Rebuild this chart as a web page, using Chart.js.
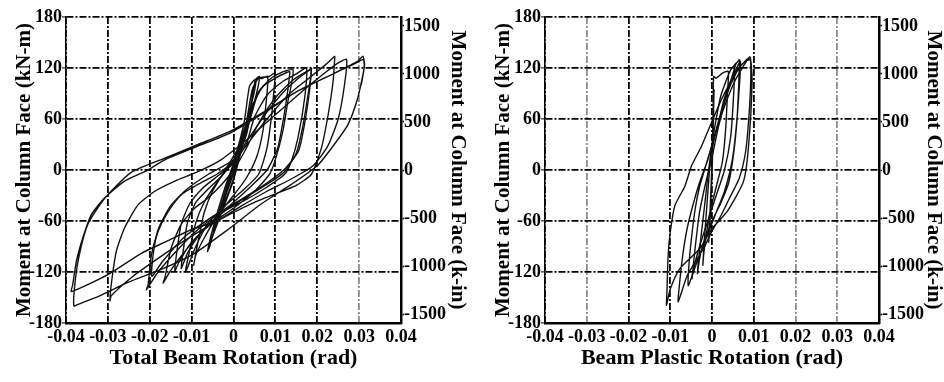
<!DOCTYPE html>
<html>
<head>
<meta charset="utf-8">
<script src="https://cdn.jsdelivr.net/npm/chart.js@4.4.1/dist/chart.umd.min.js"></script>
<style>
html, body { margin: 0; padding: 0; background: #fff; }
#wrap { position: relative; width: 944px; height: 382px; }
canvas { position: absolute; top: 0; }
#leftChart { left: 0; }
#rightChart { left: 472px; }
</style>
</head>
<body>
<div id="wrap">
<canvas id="leftChart" width="472" height="382"></canvas>
<canvas id="rightChart" width="472" height="382"></canvas>
</div>
<script>

// -------------------------------------
// DATA
// -------------------------------------

const rotTicks = [-0.04, -0.03, -0.02, -0.01, 0, 0.01, 0.02, 0.03, 0.04];
const rotTickLabels = ["-0.04", "-0.03", "-0.02", "-0.01", "0", "0.01", "0.02", "0.03", "0.04"];
const momTicks = [-180, -120, -60, 0, 60, 120, 180];
const kinTicks = [-1500, -1000, -500, 0, 500, 1000, 1500];
const KNM_TO_KIN = 8.851;

// total beam rotation - small cycles up to 0.01 rad
const leftSmallRot = [0, 0.002, 0.0038, 0.002, 0, -0.002, -0.0038, -0.002, 0, 0.0035, 0.0045, 0.003, 0, -0.003, -0.0048, -0.003,
  0, 0.003, 0.0048, 0.0054, 0.0046, 0.002, 0, -0.003, -0.0052, -0.0058, -0.004, -0.001, 0.002, 0.004, 0.0052, 0.0062,
  0.0055, 0.003, 0, -0.003, -0.0055, -0.0062, -0.005, -0.002, 0, 0.0025, 0.0038, 0.005, 0.007, 0.0082, 0.0078, 0.007,
  0.0055, 0.003, 0, -0.004, -0.007, -0.009, -0.0095, -0.0085, -0.007, -0.005, -0.002, 0.001, 0.003, 0.0045, 0.006, 0.0085,
  0.0099, 0.0095, 0.009, 0.008, 0.006, 0.002, -0.002, -0.006, -0.009, -0.011, -0.0115, -0.0105, -0.009, -0.007, -0.004,
  -0.001, 0.002, 0.004, 0.006, 0.009, 0.012];
const leftSmallMom = [0, 38, 65, 32, -2, -32, -58, -28, 4, 60, 78, 50, -4, -45, -72, -42,
  6, 55, 88, 104, 84, 30, -10, -50, -80, -92, -60, -10, 35, 72, 106, 110,
  90, 45, -12, -52, -85, -96, -70, -20, 8, 55, 98, 106, 108, 110, 80, 45,
  15, -10, -30, -55, -80, -100, -112, -85, -50, -25, 0, 25, 55, 95, 108, 110,
  114, 85, 60, 26, -5, -25, -42, -62, -90, -115, -120, -95, -62, -38, -15,
  5, 28, 60, 92, 108, 116];

// total beam rotation - repeated 0.015 cycle
const leftRepeatRot = [0.0135, 0.013, 0.012, 0.0105, 0.008, 0.004, 0, -0.004, -0.008, -0.011, -0.0125, -0.012, -0.011,
  -0.009, -0.006, -0.003, 0, 0.003, 0.0045, 0.007, 0.01, 0.0128, 0.0135];
const leftRepeatMom = [116, 95, 62, 25, 0, -20, -38, -55, -75, -98, -116, -95, -62,
  -38, -22, -8, 10, 40, 75, 98, 108, 115, 116];

// total beam rotation - 0.015 and 0.02 rad cycles
const leftMidRot = [0.012, 0.0142, 0.0138, 0.013, 0.0118, 0.0101, 0.0086, 0.005, 0, -0.005, -0.01, -0.013, -0.014, -0.0135,
  -0.0125, -0.0105, -0.0075, -0.004, 0, 0.003, 0.005, 0.008, 0.012, 0.015, 0.0174, 0.017, 0.0154, 0.0138, 0.0122, 0.008,
  0.003, -0.002, -0.006, -0.011, -0.015, -0.0168, -0.0164, -0.0149, -0.0125, -0.0093, -0.0061, -0.003, 0, 0.003, 0.006,
  0.01, 0.014, 0.0175, 0.0186, 0.018, 0.0165, 0.015, 0.012, 0.007, 0.002, -0.003, -0.008, -0.013, -0.018, -0.0208,
  -0.0204, -0.0196, -0.018, -0.0156, -0.0125, -0.0085, -0.004, 0, 0.004, 0.008, 0.013, 0.018, 0.022, 0.0242];
const leftMidMom = [116, 118, 100, 81, 46, 14, -5, -25, -45, -62, -85, -108, -119, -95,
  -64, -40, -22, -8, 8, 30, 62, 88, 105, 113, 120, 85, 38, 10, -5, -20,
  -35, -48, -65, -92, -118, -133, -127, -92, -64, -45, -33, -18, 0, 25, 55,
  85, 105, 116, 118, 95, 50, 20, -3, -20, -35, -50, -68, -92, -120, -141,
  -135, -100, -72, -49, -29, -17, -5, 10, 35, 60, 88, 108, 124, 134];

// total beam rotation - repeated 0.02 cycle
const leftRepeat2Rot = [0.0186, 0.0182, 0.017, 0.0155, 0.012, 0.006, 0, -0.006, -0.012, -0.017, -0.0195, -0.0192, -0.018,
  -0.015, -0.011, -0.006, 0, 0.004, 0.008, 0.012, 0.016, 0.0188];
const leftRepeat2Mom = [118, 95, 55, 22, 0, -22, -40, -58, -80, -108, -125, -100, -70,
  -42, -22, -5, 12, 40, 68, 92, 110, 120];

// total beam rotation - 0.03 and 0.04 rad cycles
const leftLargeRot = [0.0242, 0.0238, 0.0226, 0.021, 0.0186, 0.015, 0.01, 0.005, 0, -0.006, -0.012, -0.018, -0.024, -0.0292,
  -0.0295, -0.0292, -0.028, -0.026, -0.0228, -0.0188, -0.014, -0.0085, -0.003, 0.003, 0.01, 0.017, 0.022, 0.025, 0.027,
  0.0265, 0.025, 0.0225, 0.019, 0.014, 0.008, 0.002, -0.004, -0.01, -0.016, -0.022, -0.03, -0.0387, -0.0384, -0.0375,
  -0.036, -0.034, -0.0308, -0.026, -0.0212, -0.0164, -0.0085, -0.0006, 0.0075, 0.0154, 0.0233, 0.0297, 0.0309, 0.0313,
  0.0309, 0.0297, 0.0273, 0.0233, 0.02, 0.0138, 0.0066, -0.0013, -0.0093, -0.0173, -0.0251, -0.032, -0.0371, -0.0381,
  -0.038, -0.037, -0.0348, -0.0307, -0.0245, -0.0164, -0.0085, -0.0006, 0.0075, 0.0154, 0.0233, 0.0285, 0.031, 0.0312, 0.0305];
const leftLargeMom = [134, 105, 65, 26, -5, -18, -28, -38, -50, -66, -84, -104, -125, -148,
  -154, -135, -96, -68, -41, -25, -13, -2, 12, 35, 65, 95, 115, 126, 130,
  100, 60, 28, 5, -10, -25, -42, -60, -70, -84, -98, -123, -143, -135, -107,
  -80, -53, -33, -13, -2, 12, 28, 44, 68, 93, 112, 128, 134, 124,
  112, 85, 53, 25, 5, -17, -40, -70, -98, -117, -132, -148, -158, -160,
  -140, -104, -64, -33, -3, 14, 30, 46, 69, 93, 112, 124, 130, 120, 100];

// beam plastic rotation - early cycles
const rightSmallRot = [0, 0.0002, 0.0004, 0.0002, 0, -0.0003, -0.0005, -0.0002, 0, 0.0003, 0.0005, 0.0003, 0, -0.0004, -0.0008,
  -0.0004, 0, 0.0003, 0.0004, 0.001, 0.0025, 0.0039, 0.0037, 0.0033, 0.0025, 0.001, -0.0005, -0.0015, -0.002, -0.0022,
  -0.0018, -0.0012, -0.0006, 0, 0.001, 0.002, 0.003, 0.0045, 0.0066];
const rightSmallMom = [0, 40, 70, 30, -5, -40, -65, -20, 10, 60, 95, 60, 5, -50, -85,
  -40, 10, 80, 110, 108, 114, 116, 90, 50, 10, -20, -50, -80, -100, -112,
  -80, -40, 0, 30, 60, 85, 100, 118, 130];

// beam plastic rotation - repeated mid cycle
const rightRepeatRot = [0.0055, 0.0052, 0.0045, 0.003, 0.001, -0.001, -0.003, -0.0045, -0.0048, -0.004, -0.003, -0.0015,
  0, 0.0015, 0.003, 0.0045, 0.0058];
const rightRepeatMom = [125, 90, 40, 0, -30, -60, -90, -118, -128, -90, -50, -15,
  15, 50, 80, 105, 126];

// beam plastic rotation - later cycles
const rightLargeRot = [0.0066, 0.0064, 0.006, 0.0052, 0.004, 0.002, 0, -0.002, -0.003, -0.0035, -0.003, -0.0022, -0.0015,
  -0.0008, 0, 0.0015, 0.003, 0.005, 0.0068, 0.0065, 0.0058, 0.0048, 0.003, 0.001, -0.001, -0.003, -0.0048, -0.0057,
  -0.0055, -0.0048, -0.004, -0.003, -0.0015, 0, 0.002, 0.004, 0.0065, 0.009, 0.0093, 0.0088, 0.008, 0.0065, 0.004,
  0.002, 0, -0.002, -0.004, -0.006, -0.0081, -0.0078, -0.007, -0.006, -0.0045, -0.003, -0.001, 0.001, 0.003, 0.0055,
  0.0075, 0.0091, 0.0096, 0.0087, 0.0075, 0.0036, 0, -0.003, -0.0077, -0.01, -0.0109, -0.0108, -0.0105, -0.01, -0.0089,
  -0.0065, -0.0049, -0.0025, -0.0008, 0.002, 0.004, 0.006, 0.008, 0.0092];
const rightLargeMom = [130, 100, 60, 20, -15, -40, -60, -85, -105, -122, -95, -60, -30,
  0, 25, 55, 85, 110, 128, 95, 50, 10, -25, -50, -75, -100, -125, -136,
  -110, -75, -45, -20, 5, 30, 65, 95, 120, 132, 110, 60, 20, -10, -35,
  -55, -72, -92, -108, -125, -155, -135, -100, -70, -40, -15, 12, 45, 75, 105,
  122, 133, 104, 25, -14, -49, -69, -93, -116, -140, -159, -144, -100, -73, -42,
  -19, 5, 28, 48, 80, 100, 118, 128, 130];


// -------------------------------------
// STYLE
// -------------------------------------

const tickFont = { family: "'Liberation Serif', 'Times New Roman', serif", size: 18, weight: "bold" };
const xTitleFont = { family: "'Liberation Serif', 'Times New Roman', serif", size: 22, weight: "bold", lineHeight: 1 };
const yTitleFont = { family: "'Liberation Serif', 'Times New Roman', serif", size: 21, weight: "bold", lineHeight: 1 };
const gridDash = [7, 2, 2, 2];


// -------------------------------------
// BUILD ONE PANEL
// -------------------------------------

function buildChart(id, series, xTitle, box){

const datasets = series.map(s => ({
data: s.rot.map((r, i) => ({ x: r, y: s.mom[i] })),
showLine: true,
borderColor: "#111",
borderWidth: 1.4,
pointRadius: 0,
tension: 0.2,
fill: false
}));

new Chart(document.getElementById(id), {

type: "scatter",

data: { datasets: datasets },

options: {
responsive: false,
animation: false,
layout: { padding: { top: 17, left: 0, right: 0, bottom: 0 } },
plugins: { legend: { display: false }, tooltip: { enabled: false } },
scales: {

x: {
type: "linear",
min: -0.04,
max: 0.04,
afterBuildTicks: s => { s.ticks = rotTicks.map(v => ({ value: v })); },
afterFit: s => { s.height = 59; },
ticks: { callback: (v, i) => rotTickLabels[i], font: tickFont, color: "#000", padding: 4, maxRotation: 0, autoSkip: false },
grid: { color: c => (c.tick && box.greyX.includes(c.tick.value)) ? "#8c8c8c" : "#000", lineWidth: 1.8, drawTicks: false },
border: { display: true, color: "#000", width: 2.5, dash: gridDash },
title: { display: true, text: xTitle, font: xTitleFont, color: "#000", padding: { top: 0, bottom: 13 } }
},

y: {
type: "linear",
position: "left",
min: -180,
max: 180,
afterBuildTicks: s => { s.ticks = momTicks.map(v => ({ value: v })); },
afterFit: s => { s.width = box.leftW; },
ticks: { callback: v => String(v), font: tickFont, color: "#000", padding: 0 },
grid: { color: "#000", lineWidth: 1.8, drawTicks: true, tickLength: 4, tickColor: "#000", tickWidth: 1 },
border: { display: true, color: "#000", width: 1.5, dash: gridDash },
title: { display: true, text: "Moment at Column Face (kN-m)", font: yTitleFont, color: "#000", padding: { top: box.leftPad, bottom: 0 } }
},

y2: {
type: "linear",
position: "right",
min: -180 * KNM_TO_KIN,
max: 180 * KNM_TO_KIN,
afterBuildTicks: s => { s.ticks = kinTicks.map(v => ({ value: v })); },
afterFit: s => { s.width = box.rightW; },
ticks: { callback: v => String(v), font: tickFont, color: "#000", padding: 0 },
grid: { drawOnChartArea: false, drawTicks: true, tickLength: 3, tickColor: "#000", tickWidth: 1.5 },
border: { display: true, color: "#000", width: 2.5 },
title: { display: true, text: "Moment at Column Face (k-in)", font: yTitleFont, color: "#000", padding: { top: box.rightPad, bottom: 0 } }
}

}
}

});

}


// -------------------------------------
// DRAW BOTH PANELS
// -------------------------------------

buildChart("leftChart", [
{ rot: leftSmallRot, mom: leftSmallMom },
{ rot: leftRepeatRot, mom: leftRepeatMom },
{ rot: leftMidRot, mom: leftMidMom },
{ rot: leftRepeat2Rot, mom: leftRepeat2Mom },
{ rot: leftLargeRot, mom: leftLargeMom }
], "Total Beam Rotation (rad)", { leftW: 66, rightW: 71, leftPad: 14, rightPad: 4, greyX: [0.03] });

buildChart("rightChart", [
{ rot: rightSmallRot, mom: rightSmallMom },
{ rot: rightRepeatRot, mom: rightRepeatMom },
{ rot: rightLargeRot, mom: rightLargeMom }
], "Beam Plastic Rotation (rad)", { leftW: 73, rightW: 65, leftPad: 21, rightPad: 0, greyX: [-0.03, 0.02, 0.03] });

</script>
</body>
</html>
